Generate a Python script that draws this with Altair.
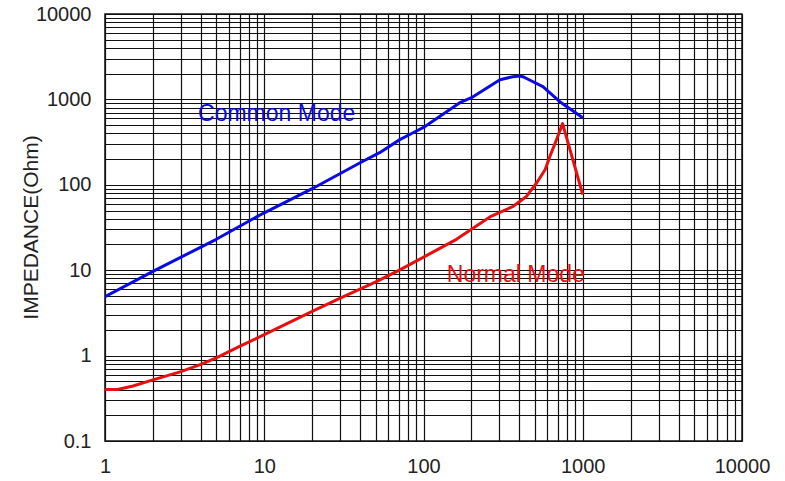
import altair as alt
import pandas as pd

# Common Mode impedance (frequency, ohm)
cm_freq = [1, 2, 5, 8.3, 10, 20, 40, 53, 71, 86, 100, 169, 200, 302, 364, 400, 421, 460, 562, 718, 1000]
cm_imp = [4.9, 9.7, 23, 39, 47, 90, 181, 238, 338, 407, 470, 915, 1047, 1700, 1845, 1880, 1845, 1700, 1408, 940, 611]

# Normal Mode impedance (frequency, ohm)
nm_freq = [1, 1.2, 1.5, 2, 3, 4, 5, 7, 10, 20, 30, 51, 71, 107, 161, 261, 366, 443, 513, 580, 622, 684, 747, 1000]
nm_imp = [0.40, 0.40, 0.44, 0.52, 0.65, 0.79, 0.94, 1.28, 1.76, 3.3, 4.7, 7.4, 10.1, 15.2, 23, 42, 56, 73, 105, 150, 215, 337, 520, 77]

x_ticks = [1, 2, 3, 4, 5, 6, 7, 8, 9,
           10, 20, 30, 40, 50, 60, 70, 80, 90,
           100, 200, 300, 400, 500, 600, 700, 800, 900,
           1000, 2000, 3000, 4000, 5000, 6000, 7000, 8000, 9000, 10000]
y_ticks = [0.1, 0.2, 0.3, 0.4, 0.5, 0.6, 0.7, 0.8, 0.9,
           1, 2, 3, 4, 5, 6, 7, 8, 9,
           10, 20, 30, 40, 50, 60, 70, 80, 90,
           100, 200, 300, 400, 500, 600, 700, 800, 900,
           1000, 2000, 3000, 4000, 5000, 6000, 7000, 8000, 9000, 10000]

labels_text = ["Common Mode", "Normal Mode"]
labels_x = [3.84, 140]
labels_y = [552, 7.28]
colors = ["#0a0ae6", "#e61010"]

df = pd.DataFrame(
    {"f": cm_freq + nm_freq,
     "z": cm_imp + nm_imp,
     "series": ["Common Mode"] * len(cm_freq) + ["Normal Mode"] * len(nm_freq)}
)
lab = pd.DataFrame({"f": labels_x, "z": labels_y, "text": labels_text})

decade_expr = "abs(log(datum.value)/LN10 - round(log(datum.value)/LN10)) < 1e-6 ? datum.label : ''"

xenc = alt.X(
    "f:Q",
    scale=alt.Scale(type="log", domain=[1, 10000], nice=False),
    axis=alt.Axis(values=x_ticks, format="~g", labelExpr=decade_expr, title=None,
                  grid=True, ticks=False, domain=False, labelOverlap=False,
                  labelFlush=False, labelPadding=15, labelFontSize=20),
)
yenc = alt.Y(
    "z:Q",
    scale=alt.Scale(type="log", domain=[0.1, 10000], nice=False),
    axis=alt.Axis(values=y_ticks, format="~g", labelExpr=decade_expr,
                  title="IMPEDANCE(Ohm)", titleFontSize=21, titleFontWeight="normal",
                  titleX=-74, titleY=213, titleAngle=-90, titleBaseline="middle",
                  titleAlign="center",
                  grid=True, ticks=False, domain=False, labelOverlap=False,
                  labelFlush=False, labelPadding=14, labelFontSize=20),
)

lines = alt.Chart(df).mark_line(strokeWidth=3, clip=True, strokeJoin="round").encode(
    x=xenc, y=yenc,
    color=alt.Color("series:N", scale=alt.Scale(domain=labels_text, range=colors), legend=None),
)
texts = alt.Chart(lab).mark_text(align="left", baseline="alphabetic", fontSize=23,
                                 font="Liberation Sans").encode(
    x=alt.X("f:Q", scale=alt.Scale(type="log", domain=[1, 10000], nice=False)),
    y=alt.Y("z:Q", scale=alt.Scale(type="log", domain=[0.1, 10000], nice=False)),
    text="text:N",
    color=alt.Color("text:N", scale=alt.Scale(domain=labels_text, range=colors), legend=None),
)

chart = (
    alt.layer(lines, texts)
    .properties(width=637, height=427,
                autosize=alt.AutoSizeParams(type="none"),
                padding={"left": 105, "top": 14, "right": 43, "bottom": 40},
                background="white")
    .configure_view(stroke="#111", strokeWidth=1.5)
    .configure_axis(gridColor="#111", gridWidth=1.2, gridOpacity=1,
                    labelFont="Liberation Sans", titleFont="Liberation Sans",
                    labelColor="#222", titleColor="#222")
)

chart.save("out.html", embed_options={"renderer": "svg", "actions": False})
